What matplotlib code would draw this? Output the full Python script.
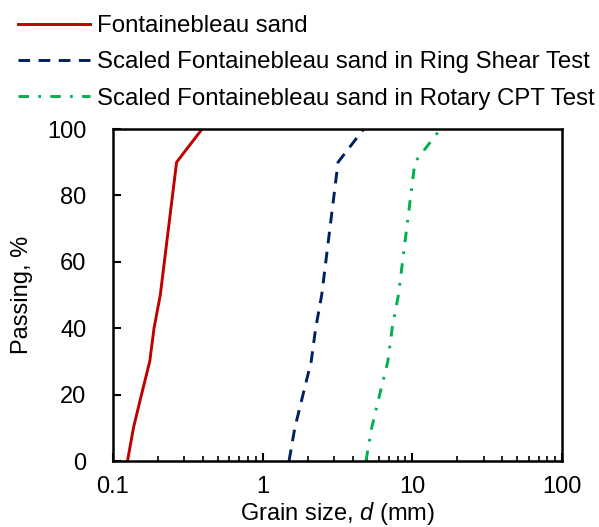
import numpy as np
import matplotlib
matplotlib.use("Agg")
import matplotlib.pyplot as plt
from matplotlib.ticker import LogLocator, NullFormatter

plt.rcParams['font.family'] = ['Liberation Sans', 'DejaVu Sans']
plt.rcParams['mathtext.fontset'] = 'custom'
plt.rcParams['mathtext.rm'] = 'Liberation Sans'
plt.rcParams['mathtext.it'] = 'Liberation Sans:italic'

# Grain size distributions (d in mm, passing in %)
passing = [0, 10, 20, 30, 40, 50, 90, 100]
d_sand = [0.125, 0.137, 0.155, 0.176, 0.188, 0.207, 0.266, 0.394]
d_ring = [1.50, 1.64, 1.86, 2.11, 2.26, 2.48, 3.19, 4.73]
d_rotary = [4.90, 5.35, 6.05, 6.86, 7.33, 8.07, 10.4, 15.4]

labels = ["Fontainebleau sand",
          "Scaled Fontainebleau sand in Ring Shear Test",
          "Scaled Fontainebleau sand in Rotary CPT Test"]
colors = ["#C00000", "#002060", "#00B050"]
fs = 17

fig = plt.figure(figsize=(5.99, 5.27), dpi=100)
ax = fig.add_axes([113/599, 1 - 461/527, 449/599, 332/527])

ax.plot(d_sand, passing, color=colors[0], lw=2.1, label=labels[0])
ax.plot(d_ring, passing, color=colors[1], lw=2.1, linestyle=(0, (4, 2.9)),
        label=labels[1])
ax.plot(d_rotary, passing, color=colors[2], lw=2.1,
        linestyle=(0, (3.6, 3.2, 0.9, 3.2)), label=labels[2])

ax.set_xscale("log")
ax.set_xlim(0.1, 100)
ax.set_ylim(0, 100)
ax.set_xticks([0.1, 1, 10, 100])
ax.set_xticklabels(["0.1", "1", "10", "100"])
ax.xaxis.set_minor_locator(LogLocator(base=10, subs=np.arange(2, 10)))
ax.xaxis.set_minor_formatter(NullFormatter())
ax.set_yticks([0, 20, 40, 60, 80, 100])

for s in ax.spines.values():
    s.set_linewidth(1.8)
ax.tick_params(axis="both", which="major", direction="in", length=5.5,
               width=1.5, labelsize=fs)
ax.tick_params(axis="x", which="major", pad=10.5)
ax.tick_params(axis="y", which="major", pad=19)
ax.tick_params(axis="x", which="minor", direction="in", length=3.5, width=1.2)

ax.set_xlabel("Grain size, $d$ (mm)", fontsize=fs, labelpad=2)
ax.set_ylabel("Passing, %", fontsize=fs, labelpad=10)

fig.legend(loc="upper left", bbox_to_anchor=(18/599, 1 - 15/527),
           frameon=False, fontsize=17.3, handlelength=3.0,
           handletextpad=0.3, labelspacing=0.6, borderpad=0,
           borderaxespad=0)

fig.savefig("out.png", dpi=100)
